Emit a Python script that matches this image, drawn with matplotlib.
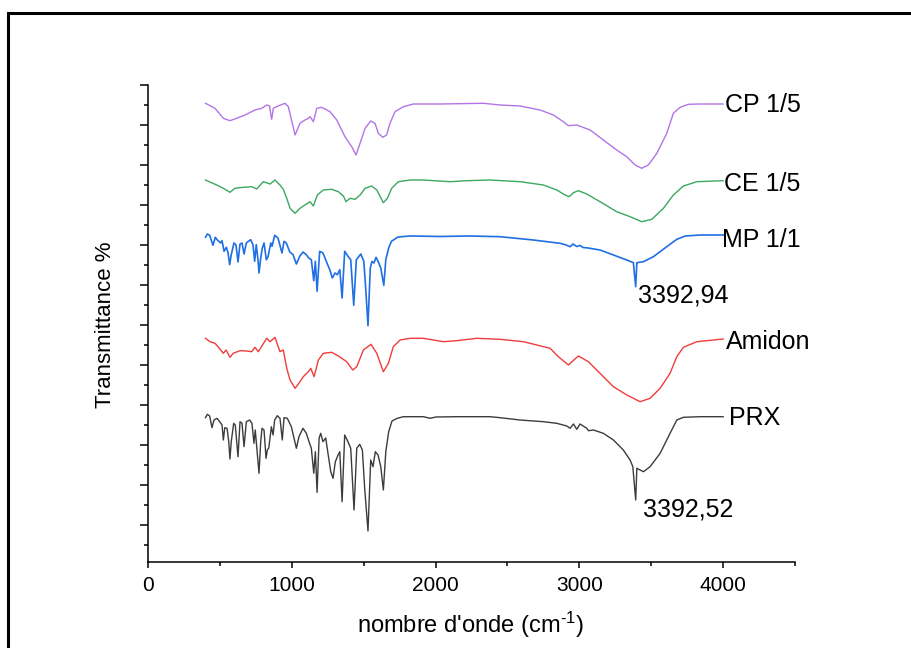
import matplotlib
matplotlib.use("Agg")
import matplotlib.pyplot as plt
from matplotlib.patches import Rectangle
from matplotlib.ticker import MultipleLocator, NullFormatter

plt.rcParams['font.family'] = ['Liberation Sans', 'DejaVu Sans']
plt.rcParams['mathtext.fontset'] = 'custom'
plt.rcParams['mathtext.rm'] = 'Liberation Sans'
plt.rcParams['mathtext.it'] = 'Liberation Sans:italic'

# === spectres IR (nombre d'onde en cm-1, transmittance décalée, unités arbitraires) ===
cp_wn = [400, 466, 524, 570, 617, 675, 744, 791, 826, 845, 860, 872, 904, 953, 976,
         1023, 1057, 1092, 1115, 1127, 1150, 1174, 1208, 1266, 1313, 1370, 1417, 1447,
         1475, 1510, 1549, 1579, 1602, 1633, 1660, 1683, 1718, 1776, 1846, 2031, 2333,
         2449, 2588, 2727, 2820, 2889, 2924, 2982, 3075, 3167, 3260, 3330, 3388, 3434,
         3480, 3539, 3608, 3654, 3701, 3759, 3840, 4000]
cp_t = [441.7, 436.7, 426.7, 424.3, 426.7, 430, 435, 436.7, 440, 439, 425.7, 436.7, 439,
        441.7, 438.3, 410, 421.7, 425, 426.7, 428.3, 423.3, 436.7, 437.7, 433.3, 425,
        408.3, 398.3, 390, 401.7, 416.7, 424, 421.7, 411.7, 407.7, 410, 421.7, 433.3,
        438.3, 441, 441, 441.7, 440, 439, 435, 430, 423.3, 419.3, 420, 415, 405, 395,
        388.3, 380, 376.7, 380, 391.7, 411.7, 431.7, 437.7, 440.7, 441, 441]

ce_wn = [400, 431, 478, 524, 570, 605, 663, 721, 756, 802, 849, 883, 918, 941, 965, 988,
         1023, 1057, 1092, 1127, 1150, 1178, 1219, 1278, 1324, 1359, 1377, 1405, 1440,
         1475, 1510, 1556, 1591, 1637, 1665, 1695, 1741, 1823, 1915, 2101, 2217, 2379,
         2588, 2750, 2843, 2901, 2929, 2959, 2993, 3052, 3144, 3260, 3353, 3434, 3504,
         3585, 3654, 3724, 3817, 4000]
ce_t = [365, 363, 360, 356.7, 352.7, 356.7, 357.7, 358.3, 356, 363.3, 361, 365, 360,
        355.7, 346.7, 336.7, 331.7, 336.7, 340, 343.3, 339, 350, 355, 355.7, 353.3, 349,
        343.3, 346.7, 345.7, 350, 356.7, 359, 355, 342.3, 346.7, 356.7, 363.3, 365, 365,
        363.3, 364.3, 365, 363.3, 360, 355, 350, 348.3, 352.3, 354.3, 351, 343.3, 333.3,
        328.3, 323.3, 325.7, 336.7, 350, 359, 363.3, 364.3]

mp_wn = [400, 413, 429, 452, 468, 487, 506, 515, 529, 545, 557, 568, 579, 598, 612, 626,
         640, 654, 668, 684, 714, 730, 742, 753, 765, 772, 784, 795, 807, 823, 835, 854,
         863, 881, 904, 932, 946, 962, 986, 1009, 1032, 1055, 1078, 1101, 1118, 1136,
         1153, 1164, 1176, 1194, 1217, 1240, 1264, 1282, 1301, 1317, 1334, 1350, 1368,
         1391, 1410, 1431, 1449, 1480, 1501, 1514, 1530, 1546, 1558, 1572, 1586, 1600,
         1619, 1640, 1654, 1674, 1693, 1739, 1823, 2031, 2240, 2449, 2680, 2866, 2908,
         2936, 2956, 2982, 3005, 3026, 3061, 3144, 3237, 3330, 3376, 3392, 3400, 3446,
         3515, 3608, 3678, 3736, 3840, 4000]
mp_t = [307.7, 311, 309.7, 299.7, 307.7, 304.3, 302, 304.3, 293.7, 297.7, 292, 280.3,
        290.3, 302, 300, 283, 301, 302, 291, 302, 305.3, 300.3, 283.7, 300.3, 285.3, 272,
        287, 297, 302, 285.3, 288.3, 302, 298.7, 309.7, 307, 292, 303.7, 302, 293, 290.3,
        281, 288.7, 293, 290.3, 287, 285.3, 264.3, 283.7, 253.7, 293.7, 292, 283.7, 275.3,
        267, 272, 270.3, 275.3, 247, 293.7, 288.7, 285.3, 239.7, 285.3, 291, 283.7, 257,
        219.3, 277, 283.7, 282, 287.7, 283.7, 277, 259.7, 285.3, 297, 303.7, 308, 309,
        308.5, 309, 308.3, 305, 301.7, 300, 298.3, 301, 298.5, 299.5, 297.5, 297, 295, 290,
        285, 282.3, 258.3, 282.3, 283.3, 288.3, 298.3, 305.7, 309, 310, 310]

am_wn = [400, 431, 466, 494, 524, 543, 570, 593, 640, 687, 721, 744, 767, 826, 849, 883,
         918, 941, 965, 988, 1023, 1057, 1080, 1115, 1132, 1155, 1185, 1219, 1278, 1324,
         1382, 1424, 1452, 1498, 1551, 1591, 1637, 1672, 1706, 1753, 1823, 1915, 2054,
         2147, 2287, 2449, 2611, 2797, 2854, 2924, 2993, 3063, 3144, 3237, 3330, 3423,
         3492, 3562, 3631, 3678, 3724, 3817, 4000]
am_t = [206.7, 203.3, 201.7, 197, 191.7, 195, 187.7, 191.7, 194.3, 194, 193.3, 197.7,
        193.3, 206.7, 203.3, 207.7, 193.3, 195, 176.7, 165, 156.7, 163.3, 168.3, 173.3,
        176.7, 168.3, 185, 191.7, 192.7, 189, 183.3, 175, 178.3, 195, 200.7, 191.7, 173.3,
        181.7, 198.3, 205, 206.7, 206.7, 203.3, 204.3, 206.7, 205.7, 203.3, 196.7, 188.3,
        180, 189, 183.3, 171.7, 158.3, 150, 143.3, 146.7, 156.7, 171.7, 188.3, 197.7,
        203.3, 206]

prx_wn = [400, 413, 429, 445, 459, 480, 499, 515, 524, 534, 550, 561, 570, 579, 596, 607,
          626, 640, 654, 668, 684, 707, 723, 737, 746, 760, 772, 784, 793, 807, 821, 830,
          840, 858, 870, 881, 899, 918, 934, 946, 969, 997, 1032, 1050, 1078, 1101, 1120,
          1136, 1153, 1164, 1176, 1190, 1201, 1217, 1236, 1257, 1271, 1287, 1303, 1322,
          1334, 1350, 1368, 1391, 1410, 1433, 1452, 1473, 1491, 1507, 1530, 1549, 1565,
          1581, 1600, 1619, 1637, 1654, 1674, 1697, 1734, 1776, 1915, 1962, 2003, 2147,
          2379, 2449, 2588, 2750, 2843, 2913, 2936, 2959, 2982, 3005, 3052, 3063, 3098,
          3167, 3237, 3306, 3353, 3372, 3392, 3400, 3446, 3492, 3562, 3631, 3678, 3724,
          3840, 4000]
prx_t = [127.3, 130.7, 129, 117.3, 125, 126.7, 123.3, 120, 105, 117.3, 116.7, 104, 86,
         103.3, 121.7, 120, 88.3, 123.3, 121.7, 98.3, 123.3, 125, 121.7, 101.7, 115, 91.7,
         71.7, 103.3, 116.7, 115, 86.7, 95, 97, 118.3, 110, 125, 129.3, 126.7, 105, 127.3,
         126.7, 118.3, 96.7, 108.3, 116.7, 111.7, 103.3, 96.7, 71.7, 93.3, 52.7, 106.7,
         111.7, 103.3, 107, 86.7, 73.3, 66.7, 83.3, 90, 93.3, 43.3, 110, 103.3, 96.7, 35,
         96.7, 100.7, 95, 56.7, 14, 85, 78.3, 93.3, 90, 78.3, 55, 93.3, 113.3, 124, 126.7,
         128.3, 128.3, 126.7, 128, 128.3, 128.3, 127.3, 125, 123.3, 121.7, 119, 116.7, 121,
         115.7, 121, 116.7, 114.3, 115, 111.7, 105, 95, 85, 78.3, 45, 76.7, 73.3, 78.3,
         91.7, 111.7, 125, 127.7, 128.3, 128.3]

fig = plt.figure(figsize=(9.12, 6.48), dpi=100)
ax = fig.add_axes([148 / 912, 1 - 562 / 648, 647 / 912, 477 / 648])

ax.plot(cp_wn, cp_t, color='#b274e6', linewidth=1.0)
ax.plot(ce_wn, ce_t, color='#3aa860', linewidth=1.0)
ax.plot(mp_wn, mp_t, color='#1f6fe5', linewidth=1.2)
ax.plot(am_wn, am_t, color='#f03c3c', linewidth=1.0)
ax.plot(prx_wn, prx_t, color='#3c3c3c', linewidth=1.0)

# étiquettes des courbes
lbl = dict(fontsize=18, va='center', ha='left')
ax.text(4010, 440, 'CP 1/5', **lbl)
ax.text(4005, 361, 'CE 1/5', **lbl)
ax.text(3995, 305, 'MP 1/1', **lbl)
ax.text(3405, 249, '3392,94', **lbl)
ax.text(4020, 203, 'Amidon', **lbl)
ax.text(4040, 127, 'PRX', **lbl)
ax.text(3440, 35, '3392,52', **lbl)

ax.set_xlim(0, 4500)
ax.set_ylim(-17, 460)
ax.xaxis.set_major_locator(MultipleLocator(1000))
ax.xaxis.set_minor_locator(MultipleLocator(500))
ax.yaxis.set_major_locator(MultipleLocator(40, offset=20))
ax.yaxis.set_minor_locator(MultipleLocator(40, offset=0))
ax.yaxis.set_major_formatter(NullFormatter())

for s in ['top', 'right']:
    ax.spines[s].set_visible(False)
for s in ['left', 'bottom']:
    ax.spines[s].set_linewidth(1.1)
ax.tick_params(axis='x', which='major', length=4, width=1.1, labelsize=15, pad=6)
ax.tick_params(axis='x', which='minor', length=3, width=1.1)
ax.tick_params(axis='y', which='major', length=6, width=1.1)
ax.tick_params(axis='y', which='minor', length=3, width=1.1)

ax.set_xlabel("nombre d'onde (cm$^{\\text{-1}}$)", fontsize=17)
ax.set_ylabel('Transmittance %', fontsize=16)
ax.xaxis.set_label_coords(0.498, -0.10)
ax.yaxis.set_label_coords(-0.05, 0.497)

# cadre noir autour de la figure
fig.patches.append(Rectangle((8 / 912, -0.1), 1.2, 1.1 - 13.5 / 648,
                             transform=fig.transFigure, fill=False,
                             edgecolor='black', linewidth=2.2))

fig.savefig('out.png', dpi=100)
